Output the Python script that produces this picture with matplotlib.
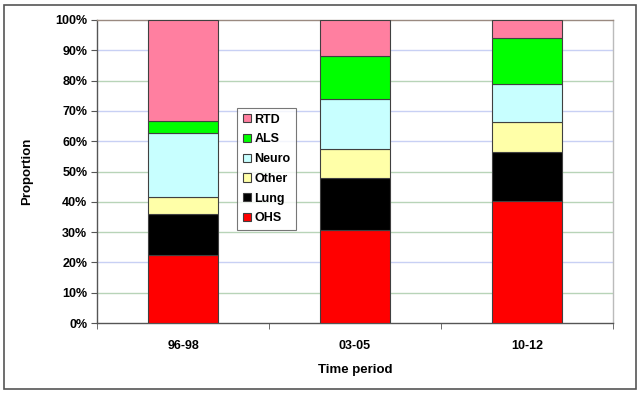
import matplotlib
matplotlib.use("Agg")
import matplotlib.pyplot as plt
from matplotlib.patches import Rectangle
import numpy as np

categories = ["96-98", "03-05", "10-12"]
series_names = ["OHS", "Lung", "Other", "Neuro", "ALS", "RTD"]
OHS = [22.3, 30.6, 40.2]
Lung = [13.8, 17.2, 16.1]
Other = [5.6, 9.7, 9.9]
Neuro = [21.1, 16.3, 12.6]
ALS = [3.8, 14.3, 15.2]
RTD = [33.4, 11.9, 6.0]
yticklabels = ["0%", "10%", "20%", "30%", "40%", "50%", "60%", "70%", "80%", "90%", "100%"]

series = [OHS, Lung, Other, Neuro, ALS, RTD]
colors = ["#ff0000", "#000000", "#ffffa8", "#c8ffff", "#00ff00", "#ff7fa0"]

plt.rcParams['font.family'] = ['Liberation Sans', 'DejaVu Sans']
plt.rcParams['font.weight'] = 'bold'

fig = plt.figure(figsize=(6.4, 3.94), dpi=100)
fig.patches.append(Rectangle((4/640, 5/394), 632/640, 384/394, transform=fig.transFigure,
                             fill=False, edgecolor="#555555", linewidth=1.2))
ax = fig.add_axes([97/640, 71/394, 516/640, 303/394])

x = np.arange(len(categories))
bottom = np.zeros(len(categories))
handles = []
for name, vals, c in zip(series_names, series, colors):
    b = ax.bar(x, vals, 0.407, bottom=bottom, color=c, edgecolor="#404040",
               linewidth=0.8, label=name, zorder=3)
    handles.append(b)
    bottom += np.array(vals)

grid_colors = {10: "#b8d4b8", 20: "#c8d0f4", 30: "#b8d4b8", 40: "#b8d4b8", 50: "#b8d4b8",
               60: "#c8d0f4", 70: "#c8d0f4", 80: "#b8d4b8", 90: "#c8d0f4"}
for v, gc in grid_colors.items():
    ax.axhline(v, color=gc, linewidth=1.0, zorder=1)

ax.set_xlim(-0.5, 2.5)
ax.set_ylim(0, 100)
ax.set_yticks(np.arange(0, 101, 10))
ax.set_yticklabels(yticklabels, fontsize=9, fontweight='bold')
ax.set_xticks(x)
ax.set_xticklabels(categories, fontsize=9, fontweight='bold')
ax.set_xticks([-0.5, 0.5, 1.5, 2.5], minor=True)
ax.tick_params(axis='x', which='major', length=0, pad=12)
ax.tick_params(axis='x', which='minor', length=4, color="#555555", direction='out')
ax.tick_params(axis='y', length=4, color="#555555", direction='out', pad=3)

for s in ["left", "bottom"]:
    ax.spines[s].set_color("#555555")
    ax.spines[s].set_linewidth(1.0)
ax.spines["top"].set_color("#9a8a80")
ax.spines["top"].set_linewidth(1.0)
ax.spines["right"].set_color("#bbbbbb")
ax.spines["right"].set_linewidth(1.0)

ax.set_xlabel("Time period", fontsize=9.5, fontweight='bold', labelpad=9)
ax.set_ylabel("Proportion", fontsize=9.5, fontweight='bold', labelpad=16)

leg = ax.legend(handles[::-1], series_names[::-1], loc='upper left',
                bbox_to_anchor=(140/516, (323-108)/303), fontsize=9,
                frameon=True, fancybox=False, edgecolor="#555555",
                handlelength=0.65, handleheight=0.65, handletextpad=0.3,
                labelspacing=0.62, borderpad=0.45, borderaxespad=0)
leg.get_frame().set_linewidth(0.8)
for t in leg.get_texts():
    t.set_fontweight('bold')

fig.savefig("out.png", dpi=100)
